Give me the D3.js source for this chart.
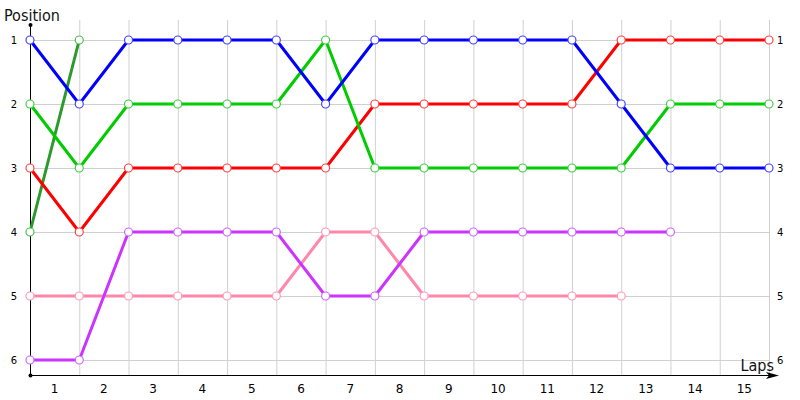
<!DOCTYPE html>
<html>
<head>
<meta charset="utf-8">
<script src="https://cdn.jsdelivr.net/npm/d3@7"></script>
<style>
body { margin: 0; background: #fff; }
svg text { font-family: Tahoma, "DejaVu Sans", Verdana, sans-serif; }
svg text.title { font-family: Tahoma, "DejaVu Sans Condensed", "DejaVu Sans", sans-serif; font-stretch: condensed; }
</style>
</head>
<body>
<div id="chart"></div>
<script>
// laps 1..15, points sit on lap boundaries 0..15
var lapLabels = ['1','2','3','4','5','6','7','8','9','10','11','12','13','14','15'];
var positions = [1, 2, 3, 4, 5, 6];

var blue   = [1,2,1,1,1,1,2,1,1,1,1,1,2,3,3,3];
var green  = [2,3,2,2,2,2,1,3,3,3,3,3,3,2,2,2];
var red    = [3,4,3,3,3,3,3,2,2,2,2,2,1,1,1,1];
var forest = [4,1];
var purple = [6,6,4,4,4,4,5,5,4,4,4,4,4,4];
var pink   = [5,5,5,5,5,5,4,4,5,5,5,5,5];

var series = [
	{name: 'forest', values: forest, line: '#2a9a2a', dot: '#4cc04c'},
	{name: 'pink',   values: pink,   line: '#ff88aa', dot: '#ff99bb'},
	{name: 'purple', values: purple, line: '#cc33ff', dot: '#cc66ff'},
	{name: 'red',    values: red,    line: '#ff0000', dot: '#ff4444'},
	{name: 'green',  values: green,  line: '#00cc00', dot: '#44cc44'},
	{name: 'blue',   values: blue,   line: '#0000ff', dot: '#4444ff'}
];

var width = 800, height = 400;
var x0 = 30, x1 = 769, yTop = 40, yBot = 360, axisY = 375;

var svg = d3.select('#chart').append('svg')
	.attr('width', width)
	.attr('height', height);

var x = d3.scaleLinear().domain([0, lapLabels.length]).range([x0, x1]);
var y = d3.scaleLinear().domain([1, 6]).range([yTop, yBot]);

// grid
var grid = svg.append('g').attr('class', 'grid');
grid.selectAll('.vgrid')
	.data(d3.range(1, lapLabels.length + 1))
	.enter().append('line')
	.attr('x1', function(d) { return x(d) + 0.5; })
	.attr('x2', function(d) { return x(d) + 0.5; })
	.attr('y1', 20)
	.attr('y2', axisY)
	.attr('stroke', '#d0d0d0');
grid.selectAll('.hgrid')
	.data(positions)
	.enter().append('line')
	.attr('x1', x0)
	.attr('x2', x1)
	.attr('y1', function(d) { return y(d) + 0.5; })
	.attr('y2', function(d) { return y(d) + 0.5; })
	.attr('stroke', '#d0d0d0');

// axes
svg.append('line')
	.attr('x1', x0 + 0.5).attr('x2', x0 + 0.5)
	.attr('y1', 25).attr('y2', axisY)
	.attr('stroke', '#000');
svg.append('circle').attr('cx', x0 + 0.5).attr('cy', 25).attr('r', 2).attr('fill', '#000');
svg.append('circle').attr('cx', x0 + 0.5).attr('cy', axisY + 0.5).attr('r', 2).attr('fill', '#000');
svg.append('line')
	.attr('x1', x0).attr('x2', 776)
	.attr('y1', axisY + 0.5).attr('y2', axisY + 0.5)
	.attr('stroke', '#000');
svg.append('path')
	.attr('d', 'M779,' + (axisY + 0.5) + 'L766,' + (axisY - 3) + 'L769,' + (axisY + 0.5) + 'L766,' + (axisY + 4) + 'Z')
	.attr('fill', '#000');

// tick labels
svg.selectAll('.ylabL')
	.data(positions)
	.enter().append('text')
	.attr('x', 14)
	.attr('y', function(d) { return y(d) + 4; })
	.attr('text-anchor', 'middle')
	.attr('font-size', 10)
	.attr('fill', '#000')
	.text(function(d) { return d; });
svg.selectAll('.ylabR')
	.data(positions)
	.enter().append('text')
	.attr('x', 777)
	.attr('y', function(d) { return y(d) + 4; })
	.attr('font-size', 10)
	.attr('fill', '#000')
	.text(function(d) { return d; });
svg.selectAll('.xlab')
	.data(lapLabels)
	.enter().append('text')
	.attr('x', function(d, i) { return x(i + 0.5); })
	.attr('y', 393)
	.attr('text-anchor', 'middle')
	.attr('font-size', 12)
	.attr('fill', '#000')
	.text(function(d) { return d; });

svg.append('text')
	.attr('class', 'title')
	.attr('x', 4).attr('y', 21)
	.attr('font-size', 16)
	.attr('fill', '#111')
	.text('Position');
svg.append('text')
	.attr('class', 'title')
	.attr('x', 774).attr('y', 371)
	.attr('text-anchor', 'end')
	.attr('font-size', 16)
	.attr('fill', '#111')
	.text('Laps');

// lines + markers
var line = d3.line()
	.x(function(d, i) { return x(i); })
	.y(function(d) { return y(d); });

series.forEach(function(s) {
	svg.append('path')
		.attr('d', line(s.values))
		.attr('fill', 'none')
		.attr('stroke', s.line)
		.attr('stroke-width', 3)
		.attr('stroke-linejoin', 'round');
});
series.forEach(function(s) {
	svg.selectAll('.dot-' + s.name)
		.data(s.values)
		.enter().append('circle')
		.attr('cx', function(d, i) { return x(i); })
		.attr('cy', function(d) { return y(d); })
		.attr('r', 4)
		.attr('fill', '#fff')
		.attr('stroke', s.dot)
		.attr('stroke-width', 1.2);
});
</script>
</body>
</html>
